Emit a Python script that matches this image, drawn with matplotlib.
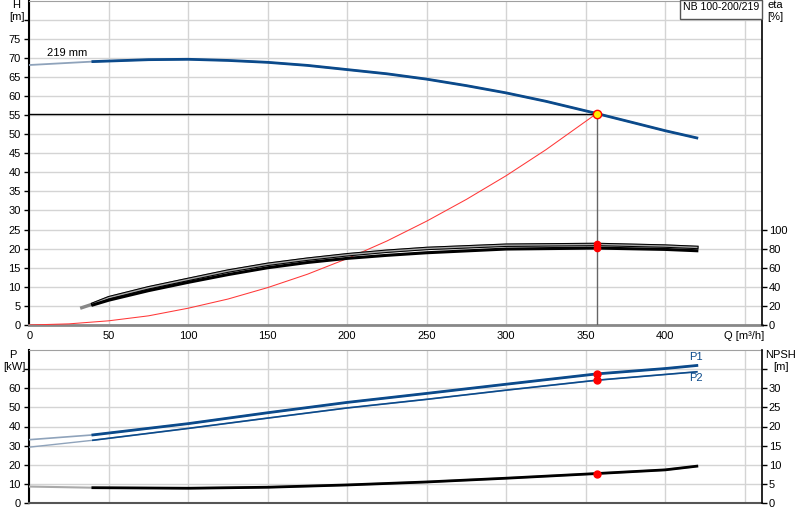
import numpy as np
import matplotlib
matplotlib.use("Agg")
import matplotlib.pyplot as plt
from matplotlib.patches import Rectangle

plt.rcParams['font.family'] = ['Liberation Sans', 'DejaVu Sans']
plt.rcParams['font.size'] = 8

# --- data ------------------------------------------------------------------
Q_MIN = 40  # below this the curves are drawn faded

q_h = [0, 40, 75, 100, 125, 150, 175, 200, 225, 250, 275, 300, 325, 357, 380, 400, 420]
head = [68.1, 69.0, 69.5, 69.6, 69.3, 68.8, 68.0, 66.9, 65.8, 64.4, 62.7, 60.8, 58.6, 55.4, 53.0, 50.9, 49.0]

q_sys = [0, 25, 50, 75, 100, 125, 150, 175, 200, 225, 250, 275, 300, 325, 357]
h_sys = [0, 0.3, 1.1, 2.4, 4.4, 6.8, 9.8, 13.3, 17.4, 22.0, 27.2, 32.9, 39.1, 45.9, 55.4]

q_eta1 = [33, 40, 50, 75, 100, 125, 150, 175, 200, 225, 250, 300, 357, 400, 420]
eta1 = [18.1, 22.0, 28.6, 39.0, 47.8, 56.5, 63.6, 69.0, 73.6, 77.3, 80.2, 83.6, 84.4, 82.7, 81.3]

q_eta2 = [40, 50, 75, 100, 125, 150, 175, 200, 225, 250, 300, 357, 400, 420]
eta2 = [21.0, 26.0, 36.0, 44.7, 52.8, 60.0, 65.5, 69.8, 73.0, 75.7, 79.6, 80.6, 79.2, 77.8]

q_p = [0, 40, 100, 150, 200, 250, 300, 357, 400, 420]
p1 = [33.1, 35.6, 41.5, 47.2, 52.6, 57.3, 62.1, 67.5, 70.3, 71.9]
p2 = [29.2, 32.8, 39.0, 44.4, 49.7, 54.2, 59.0, 64.2, 67.2, 68.6]
npsh = [4.3, 4.0, 3.86, 4.12, 4.72, 5.5, 6.48, 7.7, 8.66, 9.63]

q_op = 357
h_op = 55.4
eta1_op = 84.4
eta2_op = 80.6
p1_op = 67.5
p2_op = 64.2
npsh_op = 7.7

x_ticks = [0, 50, 100, 150, 200, 250, 300, 350, 400, 450]
x_labels = ['0', '50', '100', '150', '200', '250', '300', '350', '400', 'Q [m³/h]']

BLUE = '#0b4a8b'
FADE_BLUE = '#8fa3bb'
GRID = '#d4d4d4'

fig = plt.figure(figsize=(8, 5.2), dpi=100)
W, H = 800, 520


def px_axes(x0, y0, x1, y1):
    return fig.add_axes([x0 / W, 1 - y1 / H, (x1 - x0) / W, (y1 - y0) / H])


def split(q, v):
    q = np.asarray(q, float)
    v = np.asarray(v, float)
    m = q >= Q_MIN
    return q, v, q[m], v[m]


ax = px_axes(29.3, 0.5, 762, 325)
ax2 = ax.twinx()
bx = px_axes(29.3, 350, 762, 503)
bx2 = bx.twinx()

for a in (ax, bx):
    a.set_xlim(0, 461)
    a.set_xticks(x_ticks)
    a.grid(True, color=GRID, lw=1)
    a.set_axisbelow(True)
    a.tick_params(axis='x', length=0, pad=4.5)
    a.tick_params(axis='y', direction='out', length=3.3, width=1, pad=3)

ax.set_xticklabels(x_labels)
bx.set_xticklabels([])

# --- top: head + efficiency ---------------------------------------------
ax.set_ylim(0, 85)
ax.set_yticks(np.arange(0, 85, 5))
ax.set_yticklabels([str(v) if v <= 75 else '' for v in range(0, 85, 5)])

qa, va, qs, vs = split(q_h, head)
ax.plot(qa, va, color=FADE_BLUE, lw=1.3, zorder=3)
ax.plot(qs, vs, color=BLUE, lw=2, zorder=3)
ax.plot(q_sys, h_sys, color='#ff3838', lw=0.75, zorder=3)
ax.plot([0, q_op], [h_op, h_op], color='black', lw=1, zorder=3)
ax.plot([q_op, q_op], [0, h_op], color='#666666', lw=1, zorder=3)
ax.text(11, 71.3, '219 mm', ha='left', va='center')

ax2.set_ylim(0, 340)
ax2.set_yticks([0, 20, 40, 60, 80, 100])
ax2.tick_params(axis='y', direction='out', length=3.3, width=1, pad=1.5)

qa, va, qs, vs = split(q_eta1, eta1)
ax2.plot(qa, va, color='#888888', lw=2.4, zorder=3)
ax2.plot(qs, vs, color='black', lw=2.5, zorder=3)
ax2.plot(qs, vs, color='#a8a8a8', lw=1.0, zorder=3)
qa, va, qs, vs = split(q_eta2, eta2)
ax2.plot(qs, vs, color='black', lw=2.2, zorder=3)
ax2.plot([q_op, q_op], [eta1_op, eta2_op], 'o', color='red', ms=4.5, zorder=5)
ax2.plot([q_op], [h_op * 4], 'o', mfc='#ffee00', mec='red', mew=1, ms=6, zorder=6)

ax.spines['top'].set_color('#a0a0a0')
ax.spines['bottom'].set_color('#888888')
ax.spines['bottom'].set_linewidth(2)
ax.spines['left'].set_linewidth(1.5)
for s in ('top', 'bottom', 'left'):
    ax2.spines[s].set_visible(False)
ax.spines['right'].set_visible(False)
ax2.spines['right'].set_linewidth(1.2)

# --- bottom: power + NPSH -----------------------------------------------
bx.set_ylim(0, 80)
bx.set_yticks(np.arange(0, 80, 10))
bx.set_yticklabels([str(v) if v <= 60 else '' for v in range(0, 80, 10)])

qa, va, qs, vs = split(q_p, p1)
bx.plot(qa, va, color=FADE_BLUE, lw=1.2, zorder=3)
bx.plot(qs, vs, color=BLUE, lw=2, zorder=3)
qa, va, qs, vs = split(q_p, p2)
bx.plot(qa, va, color=FADE_BLUE, lw=1, zorder=3)
bx.plot(qs, vs, color=BLUE, lw=1.2, zorder=3)
bx.plot([q_op, q_op], [p1_op, p2_op], 'o', color='red', ms=5, zorder=5)
bx.text(415, 76.6, 'P1', color=BLUE, ha='left', va='center')
bx.text(415, 65.2, 'P2', color=BLUE, ha='left', va='center')

bx2.set_ylim(0, 40)
bx2.set_yticks(np.arange(0, 40, 5))
bx2.set_yticklabels([str(v) if v <= 30 else '' for v in range(0, 40, 5)])
bx2.tick_params(axis='y', direction='out', length=3.3, width=1, pad=1.5)
qa, va, qs, vs = split(q_p, npsh)
bx2.plot(qa, va, color='#aaaaaa', lw=1.5, zorder=3)
bx2.plot(qs, vs, color='black', lw=2, zorder=3)
bx2.plot([q_op], [npsh_op], 'o', color='red', ms=5, zorder=5)

bx.spines['top'].set_color('#a0a0a0')
bx.spines['bottom'].set_color('#555555')
bx.spines['bottom'].set_linewidth(1.5)
bx.spines['left'].set_linewidth(1.5)
for s in ('top', 'bottom', 'left'):
    bx2.spines[s].set_visible(False)
bx.spines['right'].set_visible(False)
bx2.spines['right'].set_linewidth(1.2)


def ftext(x, y, s, **kw):
    fig.text(x / W, 1 - y / H, s, ha='center', va='center', **kw)


ftext(16.5, 5.5, 'H')
ftext(17, 17.5, '[m]')
ftext(775, 5.5, 'eta')
ftext(775, 17.5, '[%]')
ftext(13, 355, 'P')
ftext(14, 367, '[kW]')
ftext(780, 355, 'NPSH')
ftext(780.5, 367, '[m]')

fig.patches.append(Rectangle((680 / W, 1 - 19.3 / H), 82 / W, 19.3 / H,
                             transform=fig.transFigure, fc='white',
                             ec='#555555', lw=1, zorder=10))
fig.text(683 / W, 1 - 7.5 / H, 'NB 100-200/219', ha='left', va='center',
         fontsize=7.6, zorder=11)

fig.savefig('out.png', dpi=100)
